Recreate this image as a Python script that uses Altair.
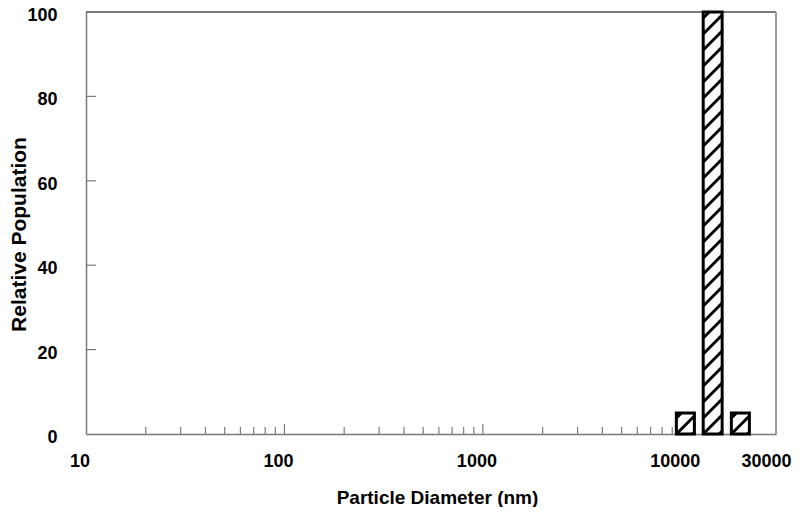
import altair as alt
import pandas as pd
import numpy as np

# ---- data ----
bin_left = [9440, 12890, 17870]      # nm
bin_right = [11640, 16060, 22030]    # nm
population = [5, 100, 5]

x_labels = [10, 100, 1000, 10000, 30000]
y_labels = [0, 20, 40, 60, 80, 100]
major_ticks = [100, 1000]
minor_ticks = [20, 30, 40, 50, 60, 70, 80, 90,
               200, 300, 400, 500, 600, 700, 800, 900,
               2000, 3000, 4000, 5000, 6000, 7000, 8000, 9000]
y_ticks = [20, 40, 60, 80]

W, H = 690, 422
XMIN, XMAX = 10, 30000
FONT = "Liberation Sans"
GRAY = "#7a7a7a"

bars = pd.DataFrame({"left": bin_left, "right": bin_right, "pop": population})

# ---- diagonal hatch segments (decoration), built in the scales' own space ----
px_per_dec = W / np.log10(XMAX / XMIN)
px_per_unit = H / 100.0
spacing = 16.0
segs = []
for l, r, h in zip(bin_left, bin_right, population):
    u0 = (np.log10(l) - 1) * px_per_dec
    u1 = (np.log10(r) - 1) * px_per_dec
    hh = h * px_per_unit
    w = u1 - u0
    c = -np.floor(w / spacing) * spacing
    while c < hh:
        us = max(u0, u0 - c)
        ue = min(u1, u0 + hh - c)
        if ue > us:
            vs = us - u0 + c
            ve = ue - u0 + c
            segs.append({
                "x": 10 ** (1 + us / px_per_dec), "x2": 10 ** (1 + ue / px_per_dec),
                "y": vs / px_per_unit, "y2": ve / px_per_unit})
        c += spacing
hatch = pd.DataFrame(segs)

xscale = alt.Scale(type="log", domain=[XMIN, XMAX], nice=False)
yscale = alt.Scale(domain=[0, 100], nice=False, zero=True)

xaxis = alt.Axis(
    values=x_labels, format="d", grid=False, ticks=False, tickSize=0,
    domainColor=GRAY, domainWidth=1.5,
    labelFont=FONT, labelFontSize=18, labelFontWeight="bold", labelColor="black",
    labelPadding=18,
    labelOffset={"condition": {"test": "datum.value == 30000", "value": -10}, "value": -6.5},
    labelFlush=False, labelOverlap=False, labelBound=False,
    title="Particle Diameter (nm)", titleFont=FONT, titleFontSize=19, titleFontWeight="bold",
    titleColor="black", titleX=351, titleY=69, titleBaseline="alphabetic", titleAnchor="middle")
yaxis = alt.Axis(
    values=y_labels, format="d", grid=False, ticks=False, tickSize=0,
    domainColor=GRAY, domainWidth=1.5,
    labelFont=FONT, labelFontSize=18, labelFontWeight="bold", labelColor="black",
    labelPadding=29, labelOffset=3.5, labelFlush=False, labelOverlap=False, labelBound=False,
    title="Relative Population", titleFont=FONT, titleFontSize=21, titleFontWeight="bold",
    titleColor="black", titleAngle=270, titleX=-61, titleY=222, titleBaseline="alphabetic",
    titleAnchor="middle")

base_bars = alt.Chart(bars).mark_rect(fill="white", stroke=None).encode(
    x=alt.X("left:Q", scale=xscale, axis=xaxis),
    x2="right:Q",
    y=alt.Y("pop:Q", scale=yscale, axis=yaxis),
    y2=alt.datum(0),
)

hatch_layer = alt.Chart(hatch).mark_rule(color="black", strokeWidth=3, strokeCap="butt").encode(
    x=alt.X("x:Q", scale=xscale, axis=xaxis), x2="x2:Q",
    y=alt.Y("y:Q", scale=yscale, axis=yaxis), y2="y2:Q",
)

outline = alt.Chart(bars).mark_rect(fill=None, stroke="black", strokeWidth=3).encode(
    x=alt.X("left:Q", scale=xscale, axis=xaxis),
    x2="right:Q",
    y=alt.Y("pop:Q", scale=yscale, axis=yaxis),
    y2=alt.datum(0),
)

minor_df = pd.DataFrame({"tick": minor_ticks})
major_df = pd.DataFrame({"tick": major_ticks})
ytick_df = pd.DataFrame({"tick": y_ticks})

minor_layer = alt.Chart(minor_df).mark_rule(color=GRAY, strokeWidth=1.2).encode(
    x=alt.X("tick:Q", scale=xscale, axis=xaxis),
    y=alt.value(H), y2=alt.value(H - 7),
)
major_layer = alt.Chart(major_df).mark_rule(color=GRAY, strokeWidth=1.2).encode(
    x=alt.X("tick:Q", scale=xscale, axis=xaxis),
    y=alt.value(H), y2=alt.value(H - 10),
)
ytick_layer = alt.Chart(ytick_df).mark_rule(color=GRAY, strokeWidth=1.2).encode(
    y=alt.Y("tick:Q", scale=yscale, axis=yaxis),
    x=alt.value(0), x2=alt.value(10),
)

top_border = alt.Chart(minor_df).mark_rule(color=GRAY, strokeWidth=1.5).encode(
    x=alt.value(0), x2=alt.value(W), y=alt.value(0)
)
right_border = alt.Chart(minor_df).mark_rule(color="#9a9a9a", strokeWidth=1).encode(
    x=alt.value(W), y=alt.value(0), y2=alt.value(H)
)

chart = alt.layer(
    minor_layer, major_layer, ytick_layer, top_border, right_border,
    base_bars, hatch_layer, outline,
).properties(
    width=W, height=H,
    autosize=alt.AutoSizeParams(type="none"),
    padding={"left": 78, "top": 4, "right": 16, "bottom": 73},
).configure_view(stroke=None).configure(background="white")

chart.save("out.html", embed_options={"renderer": "svg", "actions": False})
